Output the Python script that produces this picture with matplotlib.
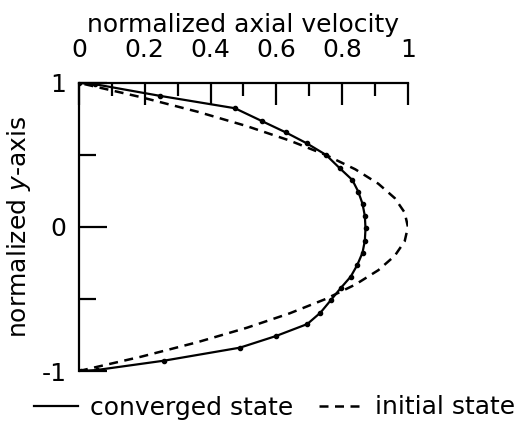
import matplotlib.pyplot as plt
from matplotlib.ticker import MultipleLocator
from matplotlib.lines import Line2D

# converged state
conv_vel = [0.0, 0.05, 0.246, 0.474, 0.555, 0.628, 0.692, 0.751, 0.793, 0.831, 0.849,
            0.862, 0.869, 0.871, 0.869, 0.862, 0.846, 0.826, 0.795, 0.766, 0.734,
            0.694, 0.599, 0.489, 0.259, 0.054, 0.005]
conv_y = [1.0, 0.99, 0.91, 0.824, 0.736, 0.657, 0.581, 0.5, 0.407, 0.326, 0.245,
          0.16, 0.076, -0.01, -0.095, -0.178, -0.264, -0.345, -0.426, -0.507, -0.595,
          -0.674, -0.757, -0.838, -0.928, -0.993, -1.0]

# initial state (dashed curve)
init_y = [-1.0, -0.9, -0.8, -0.7, -0.6, -0.5, -0.4, -0.3, -0.2, -0.1, 0.0,
          0.1, 0.2, 0.3, 0.4, 0.5, 0.6, 0.7, 0.8, 0.9, 1.0]
init_vel = [0.0, 0.19, 0.36, 0.51, 0.64, 0.75, 0.84, 0.91, 0.96, 0.99, 1.0,
            0.99, 0.96, 0.91, 0.84, 0.75, 0.64, 0.51, 0.36, 0.19, 0.0]

x_ticks = [0, 0.2, 0.4, 0.6, 0.8, 1]
x_labels = ["0", "0.2", "0.4", "0.6", "0.8", "1"]
y_ticks = [-1, 0, 1]
y_labels = ["-1", "0", "1"]

fs = 18
fig = plt.figure(figsize=(5.23, 4.25), dpi=100)
ax = fig.add_axes([0.151, 0.127, 0.629, 0.678])

ax.plot(conv_vel, conv_y, color="black", lw=1.6, marker="o", ms=3)
ax.plot(init_vel, init_y, color="black", lw=1.8, ls=(0, (3.6, 2.6)))

ax.set_xlim(0, 1)
ax.set_ylim(-1, 1)
ax.spines["right"].set_visible(False)
ax.spines["bottom"].set_visible(False)
ax.spines["top"].set_linewidth(1.6)
ax.spines["left"].set_linewidth(1.6)

ax.xaxis.tick_top()
ax.xaxis.set_label_position("top")
ax.set_xticks(x_ticks)
ax.set_xticklabels(x_labels)
ax.xaxis.set_minor_locator(MultipleLocator(0.1))
ax.set_yticks(y_ticks)
ax.set_yticklabels(y_labels)
ax.yaxis.set_minor_locator(MultipleLocator(0.5))

ax.tick_params(which="major", direction="in", length=16, width=1.6, labelsize=fs)
ax.tick_params(which="minor", direction="in", length=9, width=1.6)
ax.tick_params(axis="x", which="major", pad=15)
ax.tick_params(axis="y", which="major", length=20, pad=9)
ax.tick_params(axis="y", which="minor", length=12)

ax.set_xlabel("normalized axial velocity", fontsize=fs, labelpad=4)
ax.set_ylabel(r"normalized $\it{y}$-axis", fontsize=fs, labelpad=6)

handles = [Line2D([], [], color="black", lw=1.6),
           Line2D([], [], color="black", lw=1.8, ls=(0, (3.6, 2.6)))]
fig.legend(handles, ["converged state", "initial state"], loc="lower center",
           bbox_to_anchor=(0.525, -0.04), ncol=2, frameon=False, fontsize=fs,
           handlelength=1.75, handletextpad=0.5, columnspacing=1.0)

plt.savefig("out.png")
